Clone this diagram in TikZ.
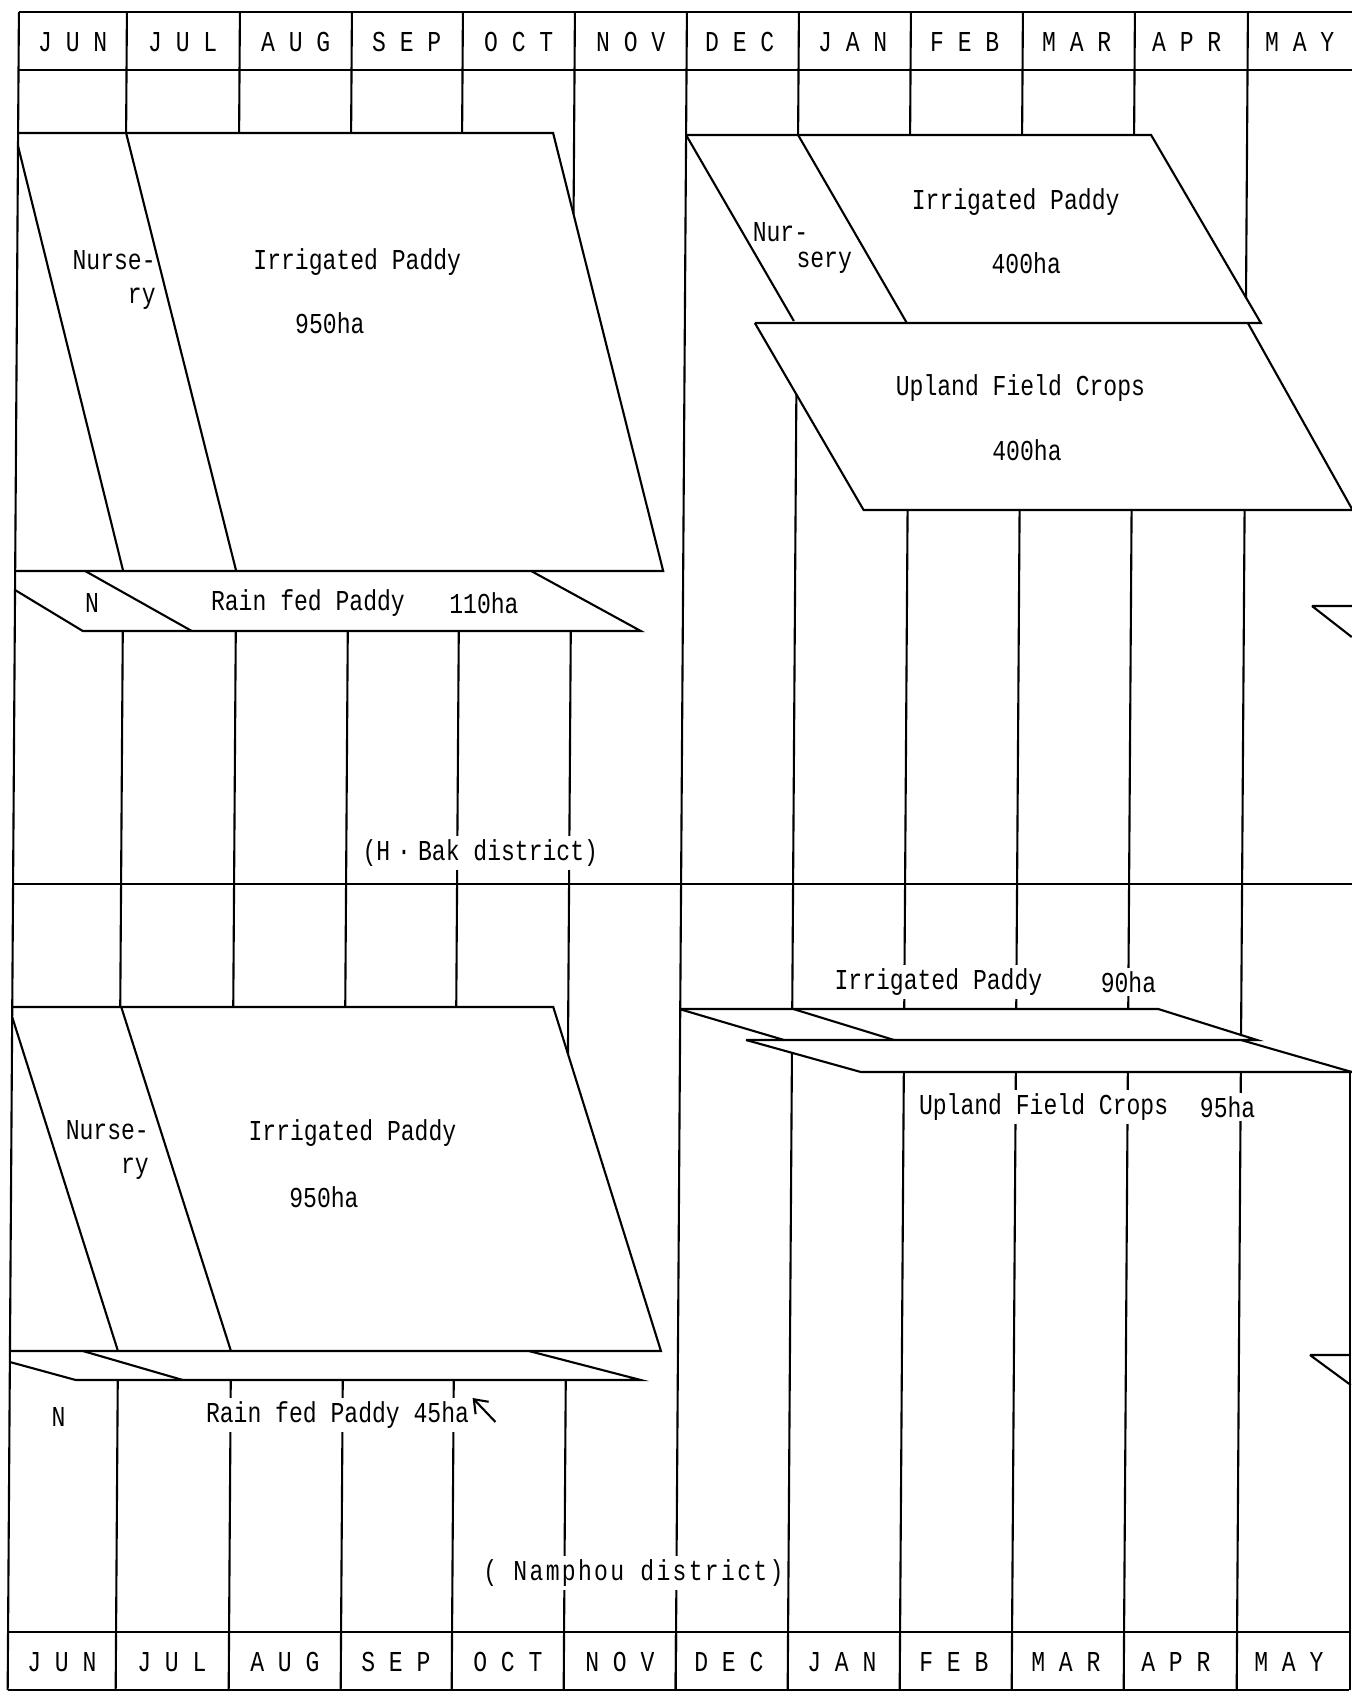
\documentclass[tikz,border=0pt]{standalone}
\usepackage{fontspec}
\newfontfamily\chartfont{Liberation Mono}[FakeStretch=0.8]
\newfontfamily\spacedfont{Liberation Mono}[FakeStretch=0.8,LetterSpace=8]
\usetikzlibrary{arrows.meta}

\begin{document}
\begin{tikzpicture}[
  x=0.01cm, y=-0.01cm, line width=0.6pt, >={Straight Barb[length=1.2mm,width=1.8mm]},
  mo/.style={font=\chartfont\fontsize{8.2}{9.7}\selectfont, inner sep=0pt},
  tx/.style={font=\chartfont\fontsize{8.2}{9.7}\selectfont, inner sep=0pt, align=right},
  lb/.style={font=\chartfont\fontsize{8.2}{9.7}\selectfont, fill=white, inner sep=1pt},
  ds/.style={font=\spacedfont\fontsize{8.2}{9.7}\selectfont, fill=white, inner sep=1pt}]
\useasboundingbox (0,0) rectangle (1352,1697);
\begin{scope}[xslant=0.0067]
\draw (19,12) -- (1360,12) (19,70) -- (1360,70);
\draw (19,1632) -- (1360,1632) (19,1690) -- (1360,1690);
\draw (19,884) -- (1360,884);
\draw (19,12) -- (19,1690);
\draw (687,12) -- (687,1690);
\foreach \x in {127,240,352,463} {\draw (\x,12) -- (\x,133); \draw (\x,884) -- (\x,1007);}
\foreach \x in {127,240,352,463,575} {\draw (\x,631) -- (\x,884); \draw (\x,1380) -- (\x,1632);}
\draw (575,12) -- (575,214) (575,884) -- (575,1054);
\foreach \x in {799,911,1023,1135} {\draw (\x,12) -- (\x,135); \draw (\x,884) -- (\x,1009);}
\foreach \x in {911,1023,1135,1248} {\draw (\x,510) -- (\x,884); \draw (\x,1072) -- (\x,1632);}
\draw (1248,12) -- (1248,298) (1248,884) -- (1248,1036);
\draw (799,394) -- (799,884) (799,1053) -- (799,1632);
\foreach \x in {127,240,352,463,575,687,799,911,1023,1135,1248} \draw (\x,1632) -- (\x,1690);
\foreach \x/\m [count=\i] in {73/J U N,183/J U L,296/A U G,407/S E P,519/O C T,631/N O V,740/D E C,853/J A N,965/F E B,1077/M A R,1187/A P R,1300/M A Y}
  {\node[mo] (top\i) at (\x,42) {\m};
   \node[mo] (bot\i) at (\x,1662) {\m};}

\draw (19,133) -- (554,133) -- (667,571) -- (19,571);
\draw (19,146) -- (127,571) (127,133) -- (240,571);
\draw (19,590) -- (87,631) -- (645,631) -- (535,571);
\draw (89,571) -- (196,631);
\node[tx] (hnur) at (116,280) {Nurse-\\ry};
\node[tx] (hirr) at (359,262) {Irrigated Paddy};
\node[tx] (hirra) at (332,323) {950ha};
\node[tx] (hn) at (96,603) {N};
\node[tx] (hrain) at (312,603) {Rain fed Paddy};
\node[tx] (hraina) at (488,603) {110ha};

\draw (687,135) -- (1152,135) -- (1263,323) -- (757,323);
\draw (687,135) -- (796,321) (799,135) -- (909,323);
\draw (757,323) -- (867,510) -- (1360,510);
\draw (1250,323) -- (1356,510);
\draw (1316,606) -- (1360,606) (1316,606) -- (1356,637);
\node[tx] (hnr1) at (782,232) {Nur-};
\node[tx] (hnr2) at (826,263) {sery};
\node[tx] (hirr2) at (1017,202) {Irrigated Paddy};
\node[tx] (hirr2a) at (1028,263) {400ha};
\node[tx] (hup) at (1023,388) {Upland Field Crops};
\node[tx] (hupa) at (1030,450) {400ha};
\node[lb] (hdist) at (486,853) {(H{\kern2pt}·{\kern2pt}Bak district)};

\draw (19,1007) -- (560,1007) -- (670,1351) -- (19,1351);
\draw (19,1017) -- (127,1351) (128,1007) -- (240,1351);
\draw (19,1362) -- (85,1380) -- (650,1380) -- (538,1351);
\draw (92,1351) -- (192,1380);
\node[tx] (nnur) at (115,1150) {Nurse-\\ry};
\node[tx] (nirr) at (360,1133) {Irrigated Paddy};
\node[tx] (nirra) at (332,1197) {950ha};
\node[tx] (nn) at (68,1417) {N};
\node[lb] (nrain) at (347,1415) {Rain fed Paddy 45ha};
\coordinate (ntail) at (505,1422);
\coordinate (nhead) at (482,1398);
\draw[->] (ntail) -- (nhead);

\draw (686,1009) -- (1165,1009) -- (1264,1040) -- (753,1040);
\draw (686,1009) -- (791,1040) (800,1009) -- (901,1040);
\draw (753,1040) -- (868,1072) -- (1360,1072);
\draw (1248,1040) -- (1359,1072);
\draw (1319,1355) -- (1360,1355) (1319,1355) -- (1360,1385);
\node[lb] (nirr2) at (945,982) {Irrigated Paddy};
\node[lb] (nirr2a) at (1135,982) {90ha};
\node[lb] (nup) at (1051,1107) {Upland Field Crops};
\node[lb] (nupa) at (1235,1107) {95ha};
\node[ds] (ndist) at (644,1573) {( Namphou district)};
\end{scope}
\draw (1350,1073) -- (1350,1690);
\end{tikzpicture}
\end{document}
